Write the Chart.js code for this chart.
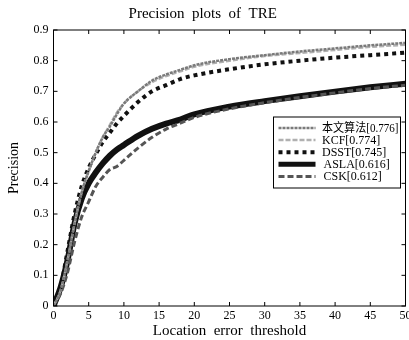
<!DOCTYPE html>
<html>
<head>
<meta charset="utf-8">
<script src="https://cdn.jsdelivr.net/npm/chart.js@4"></script>
<style>
  body { margin: 0; background: #fff; }
  canvas { display: block; }
</style>
</head>
<body>
<canvas id="chart" width="409" height="340"></canvas>
<script>
// location error thresholds (pixels)
const thresholds = [0, 1, 2, 3, 4, 5, 6, 7, 8, 9, 10, 12, 14, 16, 18, 20, 25, 30, 35, 40, 45, 50];

// precision per tracker
const oursValues = [0, 0.05, 0.15, 0.27, 0.37, 0.44, 0.50, 0.55, 0.585, 0.625, 0.66, 0.70, 0.735, 0.755, 0.77, 0.785, 0.805, 0.818, 0.83, 0.84, 0.85, 0.858];
const kcfValues  = [0, 0.05, 0.15, 0.27, 0.37, 0.44, 0.50, 0.55, 0.59, 0.63, 0.66, 0.70, 0.73, 0.75, 0.765, 0.78, 0.80, 0.815, 0.825, 0.835, 0.845, 0.852];
const dsstValues = [0, 0.06, 0.18, 0.30, 0.39, 0.45, 0.495, 0.535, 0.565, 0.595, 0.62, 0.665, 0.70, 0.72, 0.74, 0.752, 0.772, 0.788, 0.80, 0.81, 0.818, 0.826];
const aslaValues = [0, 0.06, 0.15, 0.27, 0.35, 0.40, 0.435, 0.465, 0.49, 0.51, 0.525, 0.555, 0.578, 0.595, 0.608, 0.625, 0.65, 0.668, 0.684, 0.699, 0.713, 0.725];
const cskValues  = [0, 0.04, 0.11, 0.21, 0.29, 0.34, 0.39, 0.42, 0.445, 0.455, 0.475, 0.515, 0.55, 0.577, 0.596, 0.615, 0.643, 0.663, 0.68, 0.695, 0.709, 0.72];

const legendLabels = ['本文算法[0.776]', 'KCF[0.774]', 'DSST[0.745]', 'ASLA[0.616]', 'CSK[0.612]'];

const xTicks = [0, 5, 10, 15, 20, 25, 30, 35, 40, 45, 50];
const yTicks = [0, 0.1, 0.2, 0.3, 0.4, 0.5, 0.6, 0.7, 0.8, 0.9];

const SERIF = '"Liberation Serif", "DejaVu Serif", serif';

function toPoints(values) {
  return thresholds.map((t, i) => ({ x: t, y: values[i] }));
}

function series(label, values, style) {
  return Object.assign({
    label,
    data: toPoints(values),
    fill: false,
    pointRadius: 0,
    cubicInterpolationMode: 'monotone',
    borderCapStyle: 'butt'
  }, style);
}

// frame with inward ticks, like a matlab box
const framePlugin = {
  id: 'frame',
  afterDatasetsDraw(chart) {
    const { ctx, chartArea: a, scales } = chart;
    ctx.save();
    ctx.strokeStyle = '#000';
    ctx.lineWidth = 1;
    ctx.strokeRect(a.left, a.top, a.right - a.left, a.bottom - a.top);
    ctx.beginPath();
    xTicks.forEach(v => {
      const px = scales.x.getPixelForValue(v);
      ctx.moveTo(px, a.bottom); ctx.lineTo(px, a.bottom - 4);
      ctx.moveTo(px, a.top); ctx.lineTo(px, a.top + 4);
    });
    yTicks.forEach(v => {
      const py = scales.y.getPixelForValue(v);
      ctx.moveTo(a.left, py); ctx.lineTo(a.left + 4, py);
      ctx.moveTo(a.right, py); ctx.lineTo(a.right - 4, py);
    });
    ctx.stroke();
    ctx.restore();
  }
};

// boxed legend inside the plot, lower right
const boxLegendPlugin = {
  id: 'boxLegend',
  afterDraw(chart) {
    const { ctx, chartArea: a } = chart;
    const left = a.right - 132;
    const top = a.top + 87;
    const w = 127, h = 71;
    ctx.save();
    ctx.fillStyle = '#fff';
    ctx.fillRect(left, top, w, h);
    ctx.strokeStyle = '#000';
    ctx.lineWidth = 1;
    ctx.strokeRect(left, top, w, h);
    ctx.font = '12px ' + SERIF + ', "Noto Sans CJK SC"';
    ctx.textBaseline = 'middle';
    chart.data.datasets.forEach((ds, i) => {
      const y = top + 11 + i * 12.1;
      ctx.strokeStyle = ds.borderColor;
      ctx.lineWidth = Math.min(ds.borderWidth, 5);
      ctx.setLineDash(ds.borderDash || []);
      ctx.beginPath();
      ctx.moveTo(left + 5, y);
      ctx.lineTo(left + 42, y);
      ctx.stroke();
      ctx.setLineDash([]);
      ctx.fillStyle = '#000';
      const tx = i >= 3 ? left + 50 : left + 48.5;
      ctx.fillText(legendLabels[i], tx, y + 0.5, left + w - 2 - tx);
    });
    ctx.restore();
  }
};

new Chart(document.getElementById('chart'), {
  type: 'line',
  data: {
    datasets: [
      series(legendLabels[0], oursValues, { borderColor: '#7a7a7a', borderWidth: 2.5, borderDash: [3, 1], order: 1 }),
      series(legendLabels[1], kcfValues, { borderColor: '#b0b0b0', borderWidth: 2.5, borderDash: [5, 2], order: 2 }),
      series(legendLabels[2], dsstValues, { borderColor: '#111', borderWidth: 4, borderDash: [4, 4], order: 3 }),
      series(legendLabels[3], aslaValues, { borderColor: '#111', borderWidth: 6, order: 5 }),
      series(legendLabels[4], cskValues, { borderColor: '#555', borderWidth: 3, borderDash: [6, 3], order: 4 })
    ]
  },
  options: {
    responsive: false,
    animation: false,
    layout: { padding: { top: 0, right: 3.5, bottom: 0, left: 0 } },
    plugins: {
      legend: { display: false },
      tooltip: { enabled: false },
      title: {
        display: true,
        text: 'Precision  plots  of  TRE',
        color: '#000',
        font: { family: SERIF, size: 15, weight: 'normal' },
        padding: { top: 5, bottom: 7 }
      }
    },
    scales: {
      x: {
        type: 'linear',
        min: 0,
        max: 50,
        afterBuildTicks(s) { s.ticks = xTicks.map(v => ({ value: v })); },
        ticks: { color: '#000', font: { family: SERIF, size: 12 }, padding: 3, maxRotation: 0, autoSkip: false },
        grid: { display: false, drawTicks: false },
        border: { display: false },
        title: {
          display: true,
          text: 'Location  error  threshold',
          color: '#000',
          font: { family: SERIF, size: 15 },
          padding: { top: 0, bottom: 0 }
        },
        afterFit(s) { s.height = 34; s.paddingLeft = 0; s.paddingRight = 0; }
      },
      y: {
        min: 0,
        max: 0.9,
        afterBuildTicks(s) { s.ticks = yTicks.map(v => ({ value: v })); },
        ticks: {
          color: '#000',
          font: { family: SERIF, size: 12 },
          padding: 5,
          autoSkip: false,
          callback: v => (v === 0 ? '0' : v.toFixed(1))
        },
        grid: { display: false, drawTicks: false },
        border: { display: false },
        title: {
          display: true,
          text: 'Precision',
          color: '#000',
          font: { family: SERIF, size: 14 },
          padding: { top: 6, bottom: 0 }
        },
        afterFit(s) { s.width = 53.5; s.paddingTop = 0; s.paddingBottom = 0; }
      }
    }
  },
  plugins: [framePlugin, boxLegendPlugin]
});
</script>
</body>
</html>
